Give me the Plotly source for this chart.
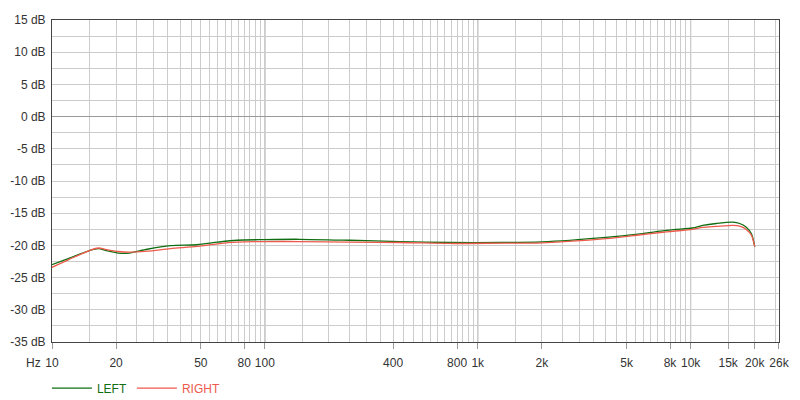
#!/usr/bin/env python

"""Frequency response of left / right channel, 10 Hz - 26 kHz."""

import plotly.graph_objects as go  # type: ignore

# frequency points (Hz)
freq = [10, 12, 15, 16.5, 18, 20.5, 23, 28, 36, 48, 60, 74, 100, 145, 250,
        430, 740, 1270, 2000, 4000, 5800, 7200, 8300, 10200, 11400, 13200,
        15800, 17000, 18200, 19300, 20000]

# level (dB)
left_db = [-23.0, -22.0, -20.8, -20.5, -20.8, -21.2, -21.2, -20.6, -20.05,
           -19.9, -19.5, -19.2, -19.1, -19.05, -19.2, -19.4, -19.55, -19.55,
           -19.45, -18.75, -18.2, -17.8, -17.55, -17.3, -16.9, -16.6, -16.4,
           -16.6, -17.15, -18.2, -20.2]
right_db = [-23.4, -22.2, -20.8, -20.4, -20.65, -20.95, -21.05, -20.9, -20.5,
            -20.15, -19.75, -19.5, -19.4, -19.4, -19.5, -19.55, -19.7, -19.65,
            -19.6, -18.95, -18.35, -18.0, -17.8, -17.5, -17.2, -17.05, -16.9,
            -17.0, -17.5, -18.45, -20.2]

# axis ticks
x_ticks = [10, 20, 50, 80, 100, 400, 800, 1000, 2000, 5000, 8000, 10000,
           15000, 20000, 26000]
x_labels = ["10", "20", "50", "80", "100", "400", "800", "1k", "2k", "5k",
            "8k", "10k", "15k", "20k", "26k"]
y_ticks = [15, 10, 5, 0, -5, -10, -15, -20, -25, -30, -35]
y_labels = ["%d dB" % v for v in y_ticks]

GREEN = "#0f6e12"
RED = "#ee5a4c"
GRID = "#cccccc"
AXIS = "#444444"
FONT = "Liberation Sans, Arial, sans-serif"


def main():
    # grid every 5 units inside each decade
    x_minor = [m * 10 ** d for d in (1, 2, 3) for m in
               (1.5, 2, 2.5, 3, 3.5, 4, 4.5, 5, 5.5, 6, 6.5, 7, 7.5, 8,
                8.5, 9, 9.5)]
    x_minor += [15000, 20000, 25000]

    fig = go.Figure()
    fig.add_trace(go.Scatter(
        x=freq, y=left_db, mode="lines", name="<span style='color:%s'>LEFT</span>" % GREEN,
        line=dict(color=GREEN, width=1.3, shape="spline", smoothing=0.8),
    ))
    fig.add_trace(go.Scatter(
        x=freq, y=right_db, mode="lines", name="<span style='color:%s'>RIGHT</span>" % RED,
        line=dict(color=RED, width=1.3, shape="spline", smoothing=0.8),
    ))

    # darker decade lines
    for f in (100, 1000, 10000):
        fig.add_shape(type="line", xref="x", yref="paper", x0=f, x1=f,
                      y0=0, y1=1, line=dict(color="#8c8c8c", width=1),
                      layer="below")

    fig.update_xaxes(
        type="log", range=[1, 4.415], tickvals=x_ticks, ticktext=x_labels,
        ticks="outside", ticklen=6, tickcolor="#999999",
        ticklabelstandoff=4,
        showgrid=True, gridcolor=GRID, gridwidth=1,
        minor=dict(tickmode="array", tickvals=x_minor, showgrid=True,
                   gridcolor=GRID, ticks=""),
        showline=True, linecolor=AXIS, linewidth=1, mirror=True,
        zeroline=False, automargin=False,
    )
    fig.update_yaxes(
        range=[-35, 15], tickvals=y_ticks, ticktext=y_labels, ticks="",
        ticklabelstandoff=3,
        showgrid=True, gridcolor=GRID, gridwidth=1,
        minor=dict(dtick=2.5, showgrid=True, gridcolor=GRID),
        showline=True, linecolor=AXIS, linewidth=1, mirror=True,
        zeroline=True, zerolinecolor="#999999", zerolinewidth=1,
        automargin=False,
    )

    fig.add_annotation(text="Hz", xref="paper", yref="paper", x=0, y=0,
                       xanchor="right", yanchor="middle", xshift=-9,
                       yshift=-21, showarrow=False,
                       font=dict(family=FONT, size=12, color="#333333"))

    # page body adds ~8px offset, so the figure is a bit smaller
    fig.update_layout(
        width=792, height=392,
        margin=dict(l=44, r=21, t=12, b=58, autoexpand=False),
        paper_bgcolor="white", plot_bgcolor="white",
        font=dict(family=FONT, size=12, color="#333333"),
        showlegend=True,
        legend=dict(orientation="h", x=-0.007, xanchor="left", y=-0.143,
                    yanchor="middle", font=dict(size=12), itemwidth=40,
                    bgcolor="rgba(0,0,0,0)"),
    )

    fig.write_html("out.html")


if __name__ == "__main__":
    main()
